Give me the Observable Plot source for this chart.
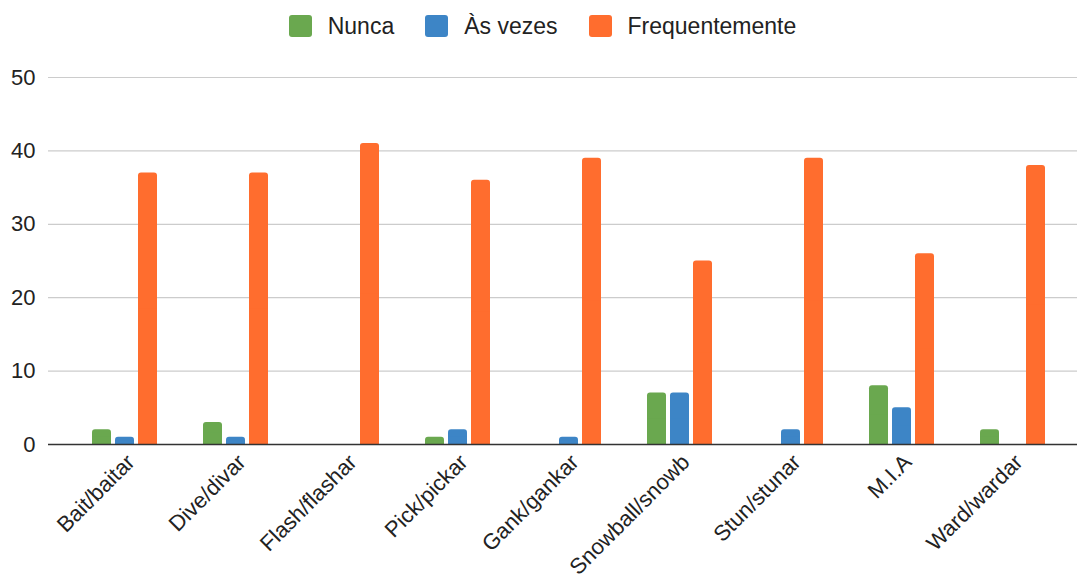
<!DOCTYPE html>
<html>
<head>
<meta charset="utf-8">
<script src="https://cdn.jsdelivr.net/npm/d3@7"></script>
<script src="https://cdn.jsdelivr.net/npm/@observablehq/plot@0.6"></script>
<style>
  body { margin: 0; background: #fff; font-family: "Liberation Sans", Arial, sans-serif; }
  #legend { height: 52px; display: flex; justify-content: center; align-items: center; gap: 31px; font-size: 23px; color: #222; padding-left: 8px; box-sizing: border-box; }
  .item { display: flex; align-items: center; gap: 16px; }
  .swatch { width: 23px; height: 22px; border-radius: 3px; }
</style>
</head>
<body>
<div id="legend"></div>
<div id="chart"></div>
<script>
// Termos e frequência de uso
const categories = ["Bait/baitar", "Dive/divar", "Flash/flashar", "Pick/pickar", "Gank/gankar", "Snowball/snowb", "Stun/stunar", "M.I.A", "Ward/wardar"];
const nunca = [2, 3, 0, 1, 0, 7, 0, 8, 2];
const asVezes = [1, 1, 0, 2, 1, 7, 2, 5, 0];
const frequentemente = [37, 37, 41, 36, 39, 25, 39, 26, 38];
const seriesNames = ["Nunca", "Às vezes", "Frequentemente"];
const seriesColors = ["#6aa84f", "#3d85c6", "#ff6d2e"];
const yTicks = [0, 10, 20, 30, 40, 50];

const seriesValues = [nunca, asVezes, frequentemente];

// legend
const legend = document.getElementById("legend");
seriesNames.forEach((name, i) => {
  const item = document.createElement("div");
  item.className = "item";
  const sw = document.createElement("div");
  sw.className = "swatch";
  sw.style.background = seriesColors[i];
  const label = document.createElement("span");
  label.textContent = name;
  item.append(sw, label);
  legend.append(item);
});

const barStep = 23;
const barMarks = seriesValues.flatMap((values, i) => {
  const rows = categories.map((cat, j) => ({cat, value: values[j]})).filter(d => d.value > 0);
  const dx = (i - 1) * barStep;
  return [
    Plot.barY(rows, {x: "cat", y: "value", fill: seriesColors[i], rx: 3, dx}),
    // square off the bottom corners
    Plot.barY(rows, {x: "cat", y: d => d.value / 2, fill: seriesColors[i], dx})
  ];
});

const chart = Plot.plot({
  width: 1077,
  height: 532,
  marginTop: 25,
  marginBottom: 140,
  marginLeft: 48,
  marginRight: 0,
  style: {fontFamily: "Liberation Sans, Arial, sans-serif", color: "#222", background: "#fff"},
  x: {domain: categories, paddingInner: 0.83, paddingOuter: 0.415, insetLeft: 17, insetRight: 6, label: null},
  y: {domain: [0, 50], label: null},
  marks: [
    Plot.ruleY(yTicks.filter(t => t > 0), {stroke: "#cccccc", strokeWidth: 1.2}),
    ...barMarks,
    Plot.ruleY([0], {stroke: "#333", strokeWidth: 1.5}),
    Plot.axisY({ticks: yTicks, tickSize: 0, tickPadding: 13, fontSize: 22, label: null}),
    Plot.axisX({tickSize: 0, tickRotate: -45, tickPadding: 14, fontSize: 22, dx: 6, label: null})
  ]
});
document.getElementById("chart").append(chart);
</script>
</body>
</html>
